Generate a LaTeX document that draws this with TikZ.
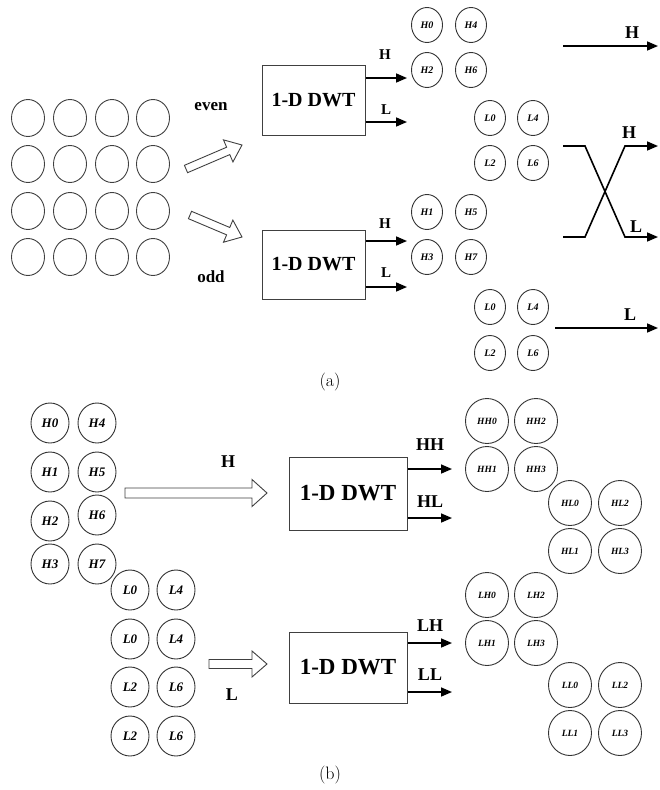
\documentclass[tikz,border=0pt]{standalone}
\usepackage{fontspec}
\usetikzlibrary{shapes.geometric,arrows.meta,calc}
\newfontfamily\tnr{Liberation Serif}
\newcommand\fsz[1]{\fontsize{#1}{#1}\selectfont}
% block arrow: #1 tail, #2 tip, #3 shaft half width, #4 head half width, #5 head length
\newcommand\blockarrow[5]{%
  \coordinate (#1-hb) at ($(#2)!#5!(#1)$);
  \draw[blk] ($(#1)!#3!90:(#2)$) -- ($(#1-hb)!#3!90:(#2)$) -- ($(#1-hb)!#4!90:(#2)$)
    -- (#2) -- ($(#1-hb)!#4!-90:(#2)$) -- ($(#1-hb)!#3!-90:(#2)$) -- ($(#1)!#3!-90:(#2)$) -- cycle;}
\begin{document}
\begin{tikzpicture}[x=1pt,y=-1pt,
  gc/.style={ellipse,draw=black!75,line width=0.9pt,minimum width=33pt,minimum height=37pt,inner sep=0pt},
  sc/.style={ellipse,draw=black!80,line width=0.9pt,minimum width=31pt,minimum height=35pt,inner sep=0pt,font=\tnr\bfseries\itshape\fsz{10}},
  bc/.style={ellipse,draw=black!80,line width=0.9pt,minimum width=38pt,minimum height=40pt,inner sep=0pt,font=\tnr\bfseries\itshape\fsz{13}},
  rc/.style={ellipse,draw=black!80,line width=0.9pt,minimum width=43pt,minimum height=45pt,inner sep=0pt,font=\tnr\bfseries\itshape\fsz{9.5}},
  dwt/.style={draw=black!75,line width=1pt,font=\tnr\bfseries\fsz{20},minimum width=103pt,minimum height=70pt,inner sep=0pt},
  dwtb/.style={dwt,font=\tnr\bfseries\fsz{23},minimum width=118pt,minimum height=72pt},
  lbl/.style={font=\tnr\bfseries\fsz{15},inner sep=0pt},
  lblb/.style={font=\tnr\bfseries\fsz{18},inner sep=0pt},
  outarr/.style={line width=1.6pt,-{Triangle[length=11pt,width=9pt]}},
  blk/.style={draw=black!75,line width=0.9pt,fill=white,line join=miter},
  captxt/.style={font=\fsz{18},inner sep=0pt}]
\useasboundingbox (0,0) rectangle (659,790);

% ---------------- (a) ----------------
\foreach \x [count=\i] in {28,70,112,153}
  \foreach \y [count=\j] in {118,164,211,257}
    \node[gc] (g\i\j) at (\x,\y) {};

\node[lbl,font=\tnr\bfseries\fsz{17}] (even) at (211,107) {even};
\node[lbl,font=\tnr\bfseries\fsz{17}] (odd) at (211,277) {odd};

\node[dwt] (boxA) at (313.5,100) {1-D DWT};
\node[dwt,minimum height=69pt] (boxB) at (313.5,264.5) {1-D DWT};

\coordinate (evt) at (186,169); \coordinate (evh) at (242,145);
\coordinate (odt) at (190,215); \coordinate (odh) at (242,237);
\blockarrow{evt}{evh}{4pt}{12pt}{15pt}
\blockarrow{odt}{odh}{4pt}{12pt}{15pt}

\coordinate (aH) at (407,78);  \coordinate (aL) at (407,122);
\coordinate (bH) at (407,241); \coordinate (bL) at (407,287);
\draw[outarr] (boxA.east |- aH) -- (aH);
\draw[outarr] (boxA.east |- aL) -- (aL);
\draw[outarr] (boxB.east |- bH) -- (bH);
\draw[outarr] (boxB.east |- bL) -- (bL);
\node[lbl] (laH) at (385,55) {H};
\node[lbl] (laL) at (386,110) {L};
\node[lbl] (lbH) at (385,224) {H};
\node[lbl] (lbL) at (386,273) {L};

\node[sc] (aH0) at (427,25) {H0};  \node[sc] (aH4) at (471,25) {H4};
\node[sc] (aH2) at (427,70) {H2};  \node[sc] (aH6) at (471,70) {H6};
\node[sc] (aL0) at (490,118) {L0}; \node[sc] (aL4) at (533,118) {L4};
\node[sc] (aL2) at (490,163) {L2}; \node[sc] (aL6) at (533,163) {L6};
\node[sc] (aH1) at (427,212) {H1}; \node[sc] (aH5) at (471,212) {H5};
\node[sc] (aH3) at (427,257) {H3}; \node[sc] (aH7) at (471,257) {H7};
\node[sc] (bL0) at (490,307) {L0}; \node[sc] (bL4) at (533,307) {L4};
\node[sc] (bL2) at (490,353) {L2}; \node[sc] (bL6) at (533,353) {L6};

% right side
\coordinate (t1) at (563,46); \coordinate (t2) at (658,46);
\draw[outarr] (t1) -- (t2);
\node[lblb] (tH) at (632,33) {H};
\coordinate (c1) at (563,146); \coordinate (c2) at (585,146);
\coordinate (c3) at (625,237); \coordinate (c4) at (658,237);
\coordinate (d1) at (563,237); \coordinate (d2) at (585,237);
\coordinate (d3) at (625,146); \coordinate (d4) at (658,146);
\draw[outarr,line join=miter] (c1) -- (c2) -- (c3) -- (c4);
\draw[outarr,line join=miter] (d1) -- (d2) -- (d3) -- (d4);
\node[lblb] (xH) at (629,133) {H};
\node[lblb] (xL) at (636,227) {L};
\coordinate (e1) at (555,328); \coordinate (e2) at (658,328);
\draw[outarr] (e1) -- (e2);
\node[lblb] (eL) at (630,315) {L};

\node[captxt] (capa) at (330,382) {(a)};

% ---------------- (b) ----------------
\node[bc] (pH0) at (50,423) {H0}; \node[bc] (pH4) at (97,423) {H4};
\node[bc] (pH1) at (50,472) {H1}; \node[bc] (pH5) at (97,472) {H5};
\node[bc] (pH2) at (50,521) {H2}; \node[bc] (pH6) at (97,515) {H6};
\node[bc] (pH3) at (50,564) {H3}; \node[bc] (pH7) at (97,564) {H7};
\node[bc] (pL0a) at (130,590) {L0}; \node[bc] (pL4a) at (176,590) {L4};
\node[bc] (pL0b) at (130,639) {L0}; \node[bc] (pL4b) at (176,639) {L4};
\node[bc] (pL2a) at (130,687) {L2}; \node[bc] (pL6a) at (176,687) {L6};
\node[bc] (pL2b) at (130,736) {L2}; \node[bc] (pL6b) at (176,736) {L6};

\coordinate (hbt) at (125,493); \coordinate (hbh) at (267,493);
\coordinate (lbt) at (209,664); \coordinate (lbh) at (267,664);
\blockarrow{hbt}{hbh}{5pt}{13.5pt}{15pt}
\blockarrow{lbt}{lbh}{4.5pt}{13pt}{15pt}
\node[lblb] (bHl) at (228,462) {H};
\node[lblb] (bLl) at (232,695) {L};

\node[dwtb,minimum height=73pt] (boxC) at (348,493.5) {1-D DWT};
\node[dwtb,minimum height=71pt] (boxD) at (348,667.5) {1-D DWT};
\coordinate (oHH) at (452,469); \coordinate (oHL) at (452,518);
\coordinate (oLH) at (452,643); \coordinate (oLL) at (452,692);
\draw[outarr] (boxC.east |- oHH) -- (oHH);
\draw[outarr] (boxC.east |- oHL) -- (oHL);
\draw[outarr] (boxD.east |- oLH) -- (oLH);
\draw[outarr] (boxD.east |- oLL) -- (oLL);
\node[lblb] (lHH) at (430,445) {HH};
\node[lblb] (lHL) at (430,502) {HL};
\node[lblb] (lLH) at (430,626) {LH};
\node[lblb] (lLL) at (430,675) {LL};

\node[rc] (HH0) at (487,421) {HH0}; \node[rc] (HH2) at (536,421) {HH2};
\node[rc] (HH1) at (487,469) {HH1}; \node[rc] (HH3) at (536,469) {HH3};
\node[rc] (HL0) at (570,503) {HL0}; \node[rc] (HL2) at (620,503) {HL2};
\node[rc] (HL1) at (570,551) {HL1}; \node[rc] (HL3) at (620,551) {HL3};
\node[rc] (LH0) at (487,595) {LH0}; \node[rc] (LH2) at (536,595) {LH2};
\node[rc] (LH1) at (487,643) {LH1}; \node[rc] (LH3) at (536,643) {LH3};
\node[rc] (LL0) at (570,685) {LL0}; \node[rc] (LL2) at (620,685) {LL2};
\node[rc] (LL1) at (570,733) {LL1}; \node[rc] (LL3) at (620,733) {LL3};

\node[captxt] (capb) at (330,775) {(b)};
\end{tikzpicture}
\end{document}
